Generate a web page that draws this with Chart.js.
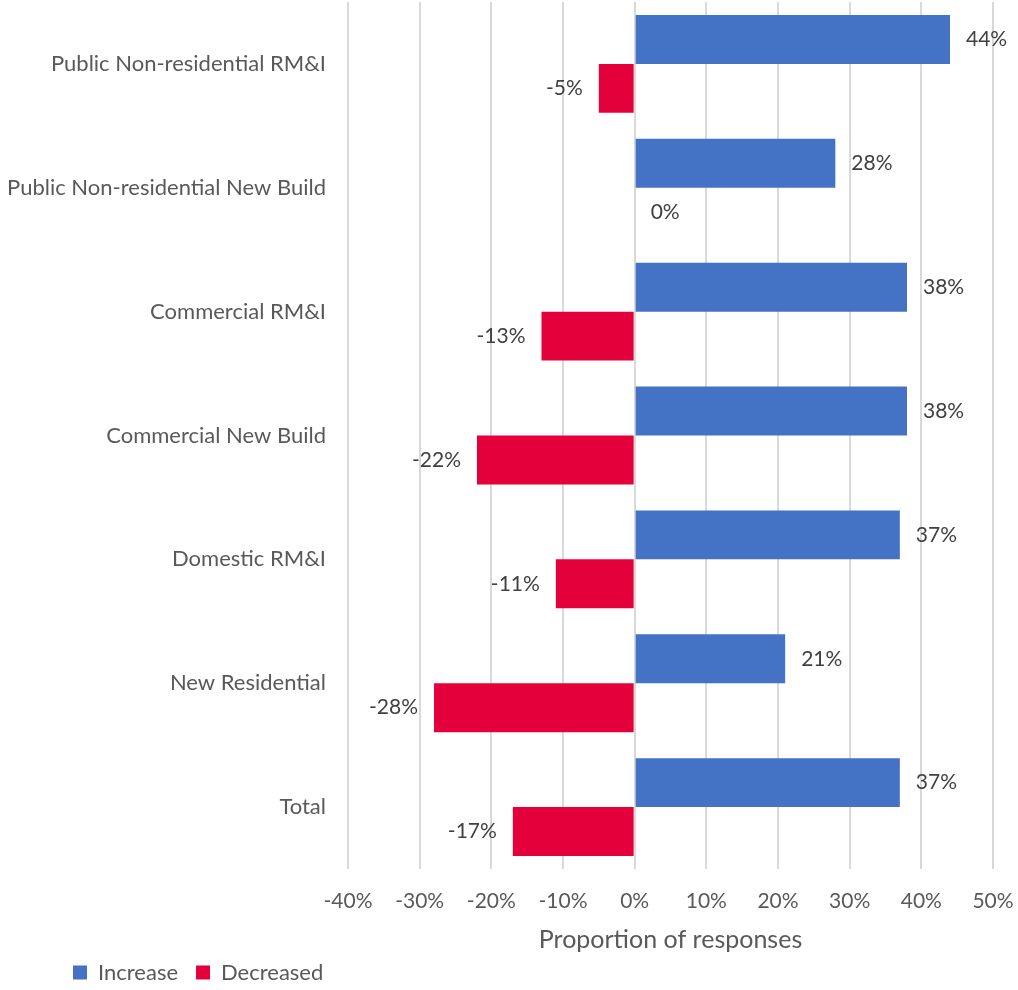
<!DOCTYPE html>
<html>
<head>
<meta charset="utf-8">
<script src="https://cdn.jsdelivr.net/npm/chart.js"></script>
<style>
    html, body { margin: 0; padding: 0; background: #fff; }
    #wrap { width: 1018px; height: 990px; }
</style>
</head>
<body>
<div id="wrap"><canvas id="chart"></canvas></div>
<script>
const categories = [
    "Public Non-residential RM&I",
    "Public Non-residential New Build",
    "Commercial RM&I",
    "Commercial New Build",
    "Domestic RM&I",
    "New Residential",
    "Total"
];
const increase = [44, 28, 38, 38, 37, 21, 37];
const decreased = [-5, 0, -13, -22, -11, -28, -17];
const xMin = -40;
const xMax = 50;
const xStep = 10;

const FONT = "Lato, 'Open Sans', sans-serif";
const textColor = "#595959";

// value labels sit just past the end of each bar
const barLabels = {
    id: "barLabels",
    afterDatasetsDraw(chart) {
        const ctx = chart.ctx;
        ctx.save();
        ctx.font = "21px " + FONT;
        ctx.fillStyle = "#404040";
        ctx.textBaseline = "middle";
        chart.data.datasets.forEach((ds, i) => {
            chart.getDatasetMeta(i).data.forEach((bar, j) => {
                const v = ds.data[j];
                if (v < 0) {
                    ctx.textAlign = "right";
                    ctx.fillText(v + "%", bar.x - 16, bar.y);
                } else {
                    ctx.textAlign = "left";
                    ctx.fillText(v + "%", bar.x + 16, bar.y);
                }
            });
        });
        ctx.restore();
    }
};

// the y axis box has to start at the canvas edge (its labels get clipped to it),
// so the legend is nudged right on its own
const legendShift = {
    id: "legendShift",
    afterLayout(chart) {
        if (chart.legend) {
            chart.legend.left += 55;
            chart.legend.right += 55;
        }
    }
};

new Chart(document.getElementById("chart"), {
    type: "bar",
    data: {
        labels: categories,
        datasets: [
            { label: "Increase", data: increase, backgroundColor: "#4472C4" },
            { label: "Decreased", data: decreased, backgroundColor: "#E4003A" }
        ]
    },
    options: {
        indexAxis: "y",
        responsive: true,
        maintainAspectRatio: false,
        animation: false,
        categoryPercentage: 0.79,
        barPercentage: 1,
        layout: { padding: { left: 0, top: 2, right: 25, bottom: -3.5 } },
        scales: {
            x: {
                min: xMin,
                max: xMax,
                ticks: {
                    stepSize: xStep,
                    callback: v => v + "%",
                    color: textColor,
                    font: { family: FONT, size: 21 },
                    padding: 0,
                    maxRotation: 0
                },
                grid: {
                    color: "#d9d9d9",
                    lineWidth: 2,
                    drawTicks: true,
                    tickLength: 20,
                    tickColor: "rgba(0,0,0,0)"
                },
                border: { display: false },
                title: {
                    display: true,
                    text: "Proportion of responses",
                    color: textColor,
                    font: { family: FONT, size: 25 },
                    padding: { top: 11, bottom: -11.7 }
                }
            },
            y: {
                afterFit: scale => { scale.width = 348; },
                ticks: {
                    color: textColor,
                    font: { family: FONT, size: 22, lineHeight: 1 },
                    padding: -11
                },
                grid: {
                    drawOnChartArea: false,
                    drawTicks: true,
                    tickLength: 33,
                    tickColor: "rgba(0,0,0,0)"
                },
                border: { display: false }
            }
        },
        plugins: {
            legend: {
                position: "bottom",
                align: "start",
                labels: {
                    boxWidth: 14,
                    boxHeight: 14,
                    padding: 18,
                    color: textColor,
                    font: { family: FONT, size: 22 }
                }
            },
            tooltip: { enabled: false }
        }
    },
    plugins: [barLabels, legendShift]
});
</script>
</body>
</html>
